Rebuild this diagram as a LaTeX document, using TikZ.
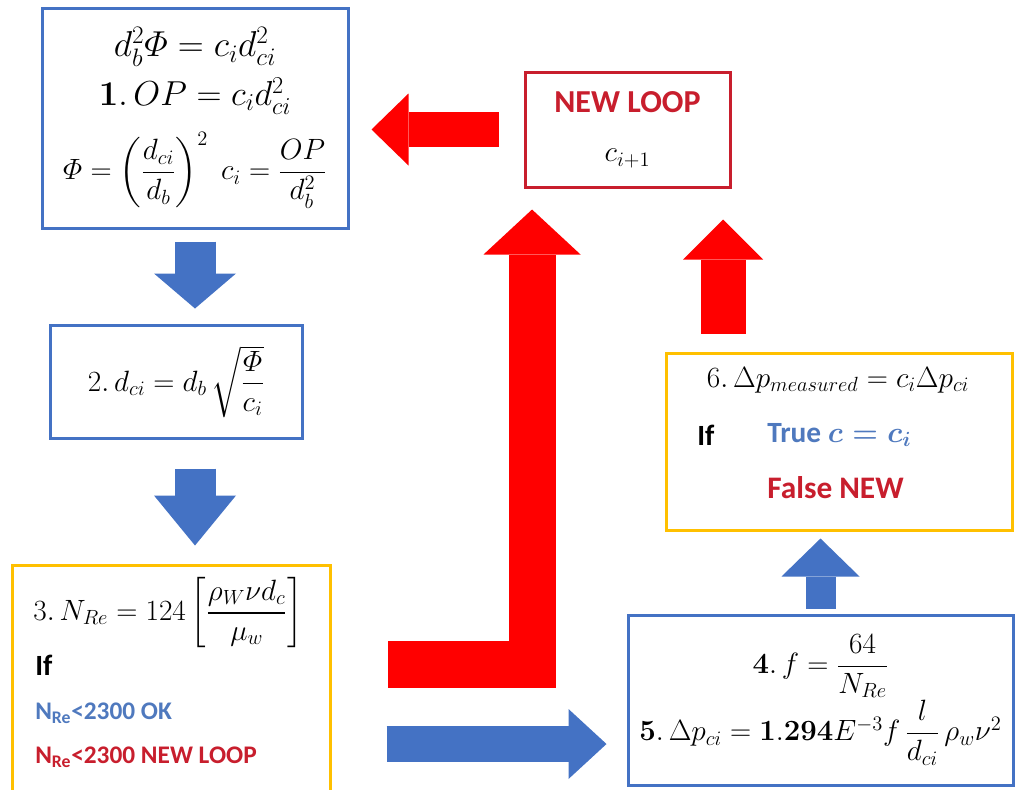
\RequirePackage{fix-cm}
\documentclass[tikz,border=0pt]{standalone}
\usepackage{amsmath,amssymb}
\usepackage[no-math]{fontspec}
\setmainfont{Carlito}
\usepackage{xcolor}
\usepackage{tikz}
\usetikzlibrary{arrows.meta,positioning}

\definecolor{boxblue}{RGB}{68,114,196}
\definecolor{boxgold}{RGB}{255,192,0}
\definecolor{loopred}{RGB}{200,30,45}
\definecolor{arrowred}{RGB}{255,0,0}
\definecolor{textblue}{RGB}{79,121,190}

\begin{document}
\begin{tikzpicture}[x=0.75pt,y=-0.75pt,
    every node/.style={font=\fontsize{22}{27}\selectfont},
    box/.style={draw,line width=2.25pt,fill=white,inner sep=0pt,align=center},
    bluebox/.style={box,draw=boxblue},
    goldbox/.style={box,draw=boxgold},
    redbox/.style={box,draw=loopred},
    word/.style={font=\fontsize{23.5}{28}\selectfont\bfseries,inner sep=0pt,anchor=west},
    small word/.style={word,font=\fontsize{19}{23}\selectfont\bfseries},
    blockarrow/.style n args={4}{draw=#1,line width=#2,line join=miter,
        -{Triangle[width=#3,length=#4,line width=0pt]}}]
    \fill[white] (0,0) rectangle (1016,789);
    \useasboundingbox (0,0) rectangle (1016,789);
    \clip (0,0) rectangle (1016,789);

    % boxes
    \node[bluebox,minimum width=229.5pt,minimum height=165pt] (ratio) at (195,118)
        {{\fontsize{27}{31}\selectfont$d_b^2\varPhi = c_i d_{ci}^2$}\\[7pt]
         {\fontsize{26}{31}\selectfont$\mathbf{1}.\,OP = c_i d_{ci}^2$}\\[12pt]
         $\varPhi = \left(\dfrac{d_{ci}}{d_b}\right)^{2}\; c_i = \dfrac{OP}{d_b^2}$};
    \node[bluebox,minimum width=189pt,minimum height=84.75pt] (diam) at (176,381.5)
        {$2.\,d_{ci} = d_b\,\sqrt{\dfrac{\varPhi}{c_i}}$};

    \node[goldbox,minimum width=238.5pt,minimum height=172.5pt] (reynolds) at (171,680) {};
    \node[inner sep=0pt] (nre) at (168,613)
        {$3.\,N_{Re} = 124\left[\dfrac{\rho_W \nu d_c}{\mu_w}\right]$};
    \node[word,font=\fontsize{22}{27}\selectfont\bfseries] (ifre) at (35,665) {If};
    \node[small word,text=textblue] (okre) at (35,713) {N\textsubscript{Re}<2300 OK};
    \node[small word,text=loopred] (loopre) at (35,757) {N\textsubscript{Re}<2300 NEW LOOP};

    \node[bluebox,minimum width=288.75pt,minimum height=127.5pt] (friction) at (820.5,700)
        {$\mathbf{4}.\,f = \dfrac{64}{N_{Re}}$\\[1pt]
         $\mathbf{5}.\,\Delta p_{ci} = \mathbf{1.294}E^{-3} f\,\dfrac{l}{d_{ci}}\,\rho_w \nu^2$};

    \node[goldbox,minimum width=259.5pt,minimum height=132.75pt] (check) at (839,441.5) {};
    \node (meas) at (838,380) {$6.\,\Delta p_{measured} = c_i\Delta p_{ci}$};
    \node[word,font=\fontsize{22}{27}\selectfont\bfseries] (ifck) at (697,435) {If};
    \node[word,font=\fontsize{22}{27}\selectfont\bfseries,text=textblue] (trueck) at (767,435) {True $\boldsymbol{c = c_i}$};
    \node[word,text=loopred] (falseck) at (767,488) {False NEW};

    \node[redbox,minimum width=153.75pt,minimum height=86.25pt] (newloop) at (627.5,129.5)
        {{\fontsize{24}{28}\selectfont\bfseries\color{loopred}NEW LOOP}\\[10pt] $c_{i+1}$};

    % block arrows
    \draw[blockarrow={boxblue}{30.75pt}{61.5pt}{26.25pt},shorten <=9pt,shorten >=11.25pt]
        (ratio.south) -- (ratio.south |- diam.north);
    \draw[blockarrow={boxblue}{30.75pt}{61.5pt}{37.5pt},shorten <=21.75pt,shorten >=13.5pt]
        (ratio.south |- diam.south) -- (ratio.south |- reynolds.north);
    \draw[blockarrow={boxblue}{27pt}{52.5pt}{28.5pt},shorten <=41.25pt,shorten >=15pt]
        (reynolds.east |- 0,744) -- (friction.west |- 0,744);
    \draw[blockarrow={boxblue}{22.5pt}{58.5pt}{28.5pt},shorten <=3.75pt,shorten >=5.25pt]
        (friction.north) -- (friction.north |- check.south);
    \draw[blockarrow={arrowred}{33.75pt}{60pt}{30pt},shorten <=13.5pt,shorten >=23.25pt]
        ([xshift=-87pt]check.north) -- ([xshift=-87pt]check.north |- newloop.south);
    \coordinate (redstart) at (388,664.5);
    \draw[blockarrow={arrowred}{35.25pt}{72.75pt}{33.75pt},shorten >=15.75pt]
        (redstart) -| ([xshift=-71.6pt]newloop.south);
    \draw[blockarrow={arrowred}{26.25pt}{54pt}{27.75pt},shorten <=18.75pt,shorten >=16.5pt]
        (newloop.west) -- (newloop.west -| ratio.east);
\end{tikzpicture}
\end{document}
